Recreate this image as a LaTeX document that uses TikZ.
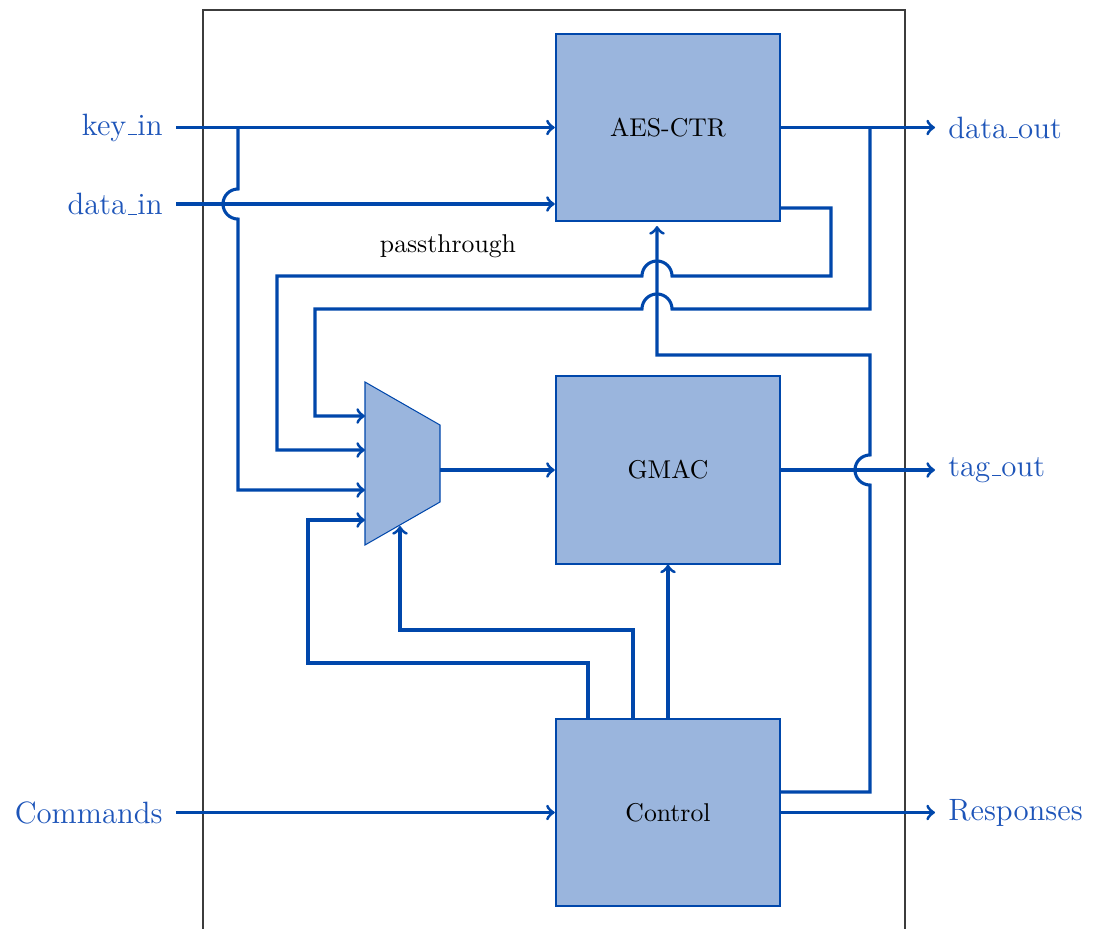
\documentclass[tikz,border=0pt]{standalone}
\usetikzlibrary{calc}
\definecolor{lnblue}{RGB}{0,71,171}
\definecolor{txtblue}{RGB}{30,85,185}
\definecolor{boxfill}{RGB}{154,181,221}
\definecolor{framegray}{RGB}{60,60,60}
\newcommand\uscr{\leavevmode\kern.06em\vbox{\hrule width.3em}}
\begin{document}
\begin{tikzpicture}[x=0.389pt,y=-0.389pt,
  wire/.style={draw=lnblue, line width=1.2pt},
  arr/.style={wire,->},
  blockbox/.style={draw=lnblue, fill=boxfill, line width=0.8pt, minimum width=87.3pt, minimum height=72.8pt, inner sep=0pt, font=\normalsize},
  iolabel/.style={text=txtblue, font=\large, inner ysep=0pt, inner xsep=5pt}
]
\useasboundingbox (0,0) rectangle (1093,929);
\draw[framegray, line width=0.8pt] (203,935) -- (203,10) -- (905,10) -- (905,935);

\node[blockbox] (aes) at (668,127.5) {AES-CTR};
\node[blockbox] (gmac) at (668,470) {GMAC};
\node[blockbox] (ctrl) at (668,812.5) {Control};

% multiplexer
\draw[draw=lnblue, fill=boxfill, line width=0.4pt] (365,382) -- (440,425) -- (440,502) -- (365,545) -- cycle;
\coordinate (mi1) at (365,416);
\coordinate (mi2) at (365,450);
\coordinate (mi3) at (365,490);
\coordinate (mi4) at (365,520);
\coordinate (mb) at (400,526);
\coordinate (muxout) at (440,470);

% labels
\node[iolabel, anchor=east] (keyin) at (176,127.5) {key\uscr in};
\node[iolabel, anchor=east] (datain) at (176,204) {data\uscr in};
\node[iolabel, anchor=east] (commands) at (176,812.5) {Commands};
\node[iolabel, anchor=west] (dataout) at (935,127.5) {data\uscr out};
\node[iolabel, anchor=west] (tagout) at (935,470) {tag\uscr out};
\node[iolabel, anchor=west] (responses) at (935,812.5) {Responses};
\node (pt) at (448,246) {passthrough};

% inputs
\draw[arr] (keyin.east) -- (keyin.east -| aes.west);
\draw[arr] (datain.east) -- (datain.east -| aes.west);
\draw[arr] (commands.east) -- (ctrl.west);

% outputs
\draw[arr] (aes.east) -- (dataout.west);
\draw[arr] (gmac.east) -- (tagout.west);
\draw[arr] (ctrl.east) -- (responses.west);

% key branch to mux
\coordinate (kb) at (238,127.5);
\draw[arr] (kb) -- (238,189) arc[start angle=90, end angle=270, radius=5.84pt] -- (238,490) -- (mi3);

% passthrough from AES to mux
\coordinate (pb) at (aes.east |- 0,208);
\draw[arr] (pb) -- (831,208) -- (831,276) -- (672,276) arc[start angle=0, end angle=180, radius=5.84pt] -- (277,276) -- (277,450) -- (mi2);

% data_out branch to mux
\coordinate (db) at (870,127.5);
\draw[arr] (db) -- (870,309) -- (672,309) arc[start angle=0, end angle=180, radius=5.84pt] -- (315,309) -- (315,416) -- (mi1);

% control to AES
\coordinate (cb) at (ctrl.east |- 0,792);
\draw[arr] (cb) -- (870,792) -- (870,485) arc[start angle=270, end angle=90, radius=5.84pt] -- (870,355) -- (657,355) -- (657,226);

% control to GMAC
\draw[arr] (ctrl.north) -- (gmac.south);

% control to mux select
\coordinate (c1) at (ctrl.north -| 633,0);
\draw[arr] (c1) -- (633,630) -- (400,630) -- (mb);
\coordinate (c2) at (ctrl.north -| 588,0);
\draw[arr] (c2) -- (588,663) -- (308,663) -- (308,520) -- (mi4);

% mux to GMAC
\draw[arr] (muxout) -- (gmac.west);
\end{tikzpicture}
\end{document}
